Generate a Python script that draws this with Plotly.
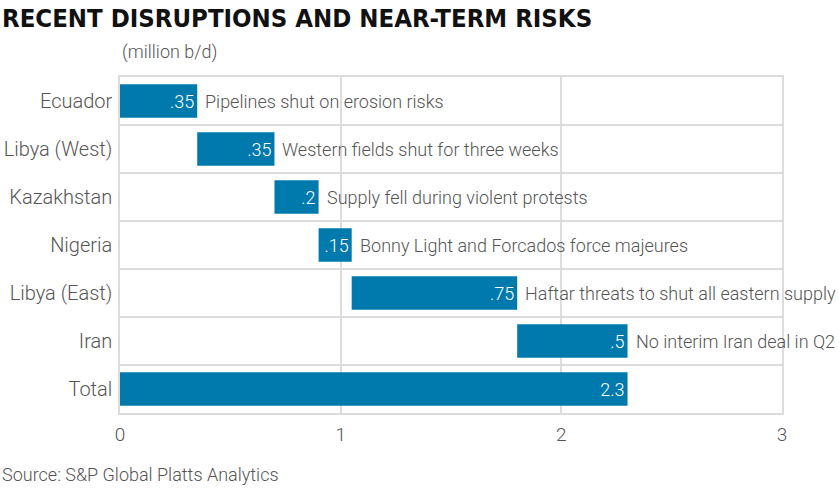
import plotly.graph_objects as go

categories = ["Ecuador", "Libya (West)", "Kazakhstan", "Nigeria", "Libya (East)", "Iran", "Total"]
values = [0.35, 0.35, 0.2, 0.15, 0.75, 0.5, 2.3]
value_labels = [".35", ".35", ".2", ".15", ".75", ".5", "2.3"]
notes = [
    "Pipelines shut on erosion risks",
    "Western fields shut for three weeks",
    "Supply fell during violent protests",
    "Bonny Light and Forcados force majeures",
    "Haftar threats to shut all eastern supply",
    "No interim Iran deal in Q2",
    "",
]
x_ticks = [0, 1, 2, 3]

# waterfall bases: each disruption starts where the previous ended; total starts at 0
bases = []
run = 0.0
for c, v in zip(categories, values):
    if c == "Total":
        bases.append(0.0)
    else:
        bases.append(run)
        run += v
ends = [b + v for b, v in zip(bases, values)]

BAR = "#0079AC"
GRID = "#DCDCDC"
TXT = "#555555"
FONT = "Roboto"
LIGHT = 300

fig = go.Figure()
fig.add_trace(go.Bar(
    y=categories, x=values, base=bases, orientation="h",
    marker=dict(color=BAR, line=dict(width=0)),
    width=0.7,
    text=value_labels, textposition="inside", insidetextanchor="end",
    textfont=dict(color="white", size=18, family=FONT, weight=LIGHT),
    textangle=0, cliponaxis=False, hoverinfo="skip",
))

note_annotations = [
    dict(x=e, y=c, xref="x", yref="y", text=n, showarrow=False,
         xanchor="left", yanchor="middle", xshift=6,
         font=dict(color=TXT, size=18, family=FONT, weight=LIGHT))
    for c, e, n in zip(categories, ends, notes) if n
]

PW, PH = 662, 336
fig.update_layout(
    width=839, height=491,
    margin=dict(l=120, r=57, t=77, b=78, autoexpand=False),
    paper_bgcolor="white", plot_bgcolor="white",
    showlegend=False,
    font=dict(family=FONT, color=TXT, size=17),
    xaxis=dict(
        range=[0, 3], tickvals=x_ticks, ticktext=[str(t) for t in x_ticks],
        showgrid=True, gridcolor=GRID, gridwidth=1.5, zeroline=False,
        showline=True, linecolor=GRID, linewidth=1.5, mirror=True,
        ticks="", tickfont=dict(size=19, color=TXT, family=FONT, weight=LIGHT),
        ticklabelstandoff=3, fixedrange=True, automargin=False,
    ),
    yaxis=dict(
        type="category", categoryorder="array", categoryarray=categories,
        autorange="reversed", tickson="boundaries",
        showgrid=True, gridcolor=GRID, gridwidth=1.5,
        showline=True, linecolor=GRID, linewidth=1.5, mirror=True,
        ticks="", ticklen=0, tickfont=dict(size=20, color=TXT, family=FONT, weight=LIGHT),
        ticklabelstandoff=2, fixedrange=True, automargin=False,
    ),
    annotations=note_annotations + [
        dict(text="<b>RECENT DISRUPTIONS AND NEAR-TERM RISKS</b>", xref="paper", yref="paper",
             x=-120 / PW, y=1 + 59 / PH, xanchor="left", yanchor="middle", showarrow=False,
             font=dict(family="DejaVu Sans Condensed", size=25.5, color="#111111")),
        dict(text="(million b/d)", xref="paper", yref="paper",
             x=0, y=1 + 25 / PH, xanchor="left", yanchor="middle", showarrow=False,
             font=dict(family=FONT, size=18, color=TXT, weight=LIGHT)),
        dict(text="Source: S&P Global Platts Analytics", xref="paper", yref="paper",
             x=-120 / PW, y=-61 / PH, xanchor="left", yanchor="middle", showarrow=False,
             font=dict(family=FONT, size=18, color=TXT, weight=LIGHT)),
    ],
)

fig.write_html("out.html", config={"displayModeBar": False},
               post_script="document.body.style.margin='0px';")
